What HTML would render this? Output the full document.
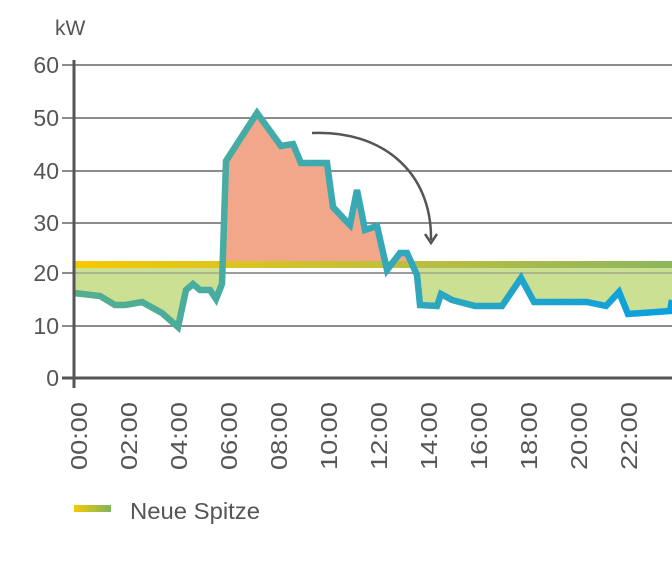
<!DOCTYPE html>
<html><head><meta charset="utf-8"><style>html,body{margin:0;padding:0;background:#fff}svg{display:block}</style></head>
<body>
<svg width="672" height="579" viewBox="0 0 672 579" xmlns="http://www.w3.org/2000/svg" font-family="Liberation Sans, sans-serif">
<defs>
<linearGradient id="band" x1="0" x2="1"><stop offset="0" stop-color="#f7c900"/><stop offset="0.5" stop-color="#c3bf3a"/><stop offset="1" stop-color="#8db65e"/></linearGradient>
<linearGradient id="line" x1="74" x2="672" gradientUnits="userSpaceOnUse"><stop offset="0" stop-color="#55ae8e"/><stop offset="0.4" stop-color="#3faaae"/><stop offset="1" stop-color="#0aa0e0"/></linearGradient>
<linearGradient id="leg" x1="0" x2="1"><stop offset="0" stop-color="#f7c900"/><stop offset="1" stop-color="#7fb55e"/></linearGradient>
<clipPath id="up"><rect x="0" y="0" width="672" height="262"/></clipPath>
<clipPath id="dn"><rect x="0" y="268" width="672" height="300"/></clipPath>
</defs>
<g stroke="#666" stroke-width="1.5">
<line x1="62" y1="65" x2="672" y2="65"/><line x1="62" y1="118" x2="672" y2="118"/><line x1="62" y1="171" x2="672" y2="171"/><line x1="62" y1="223" x2="672" y2="223"/><line x1="62" y1="273" x2="672" y2="273"/><line x1="62" y1="326" x2="672" y2="326"/>
</g>
<g fill="#555" font-size="23" text-anchor="end">
<text x="59" y="73">60</text><text x="59" y="126">50</text><text x="59" y="179">40</text><text x="59" y="231">30</text><text x="59" y="281">20</text><text x="59" y="334">10</text><text x="59" y="386">0</text>
</g>
<text x="55" y="35" fill="#555" font-size="21">kW</text>
<polygon clip-path="url(#up)" fill="#f2a78b" points="74,265 74,293 100,296 115,305 125,305 142,302 162,313 178,327 186,290 193,284 200,290 210,290 216,299 222,284 226,161 257,113 281,146 293,144 301,163 327,163 333,207 345,220 350,225 357,190 365,230 377,226 387,270 400,253 407,253 417,275 420,305 437,306 441,294 452,300 475,306 502,306 521,278 534,302 587,302 606,306 619,292 628,314 670,311 672,300 672,265"/>
<rect x="74" y="261" width="598" height="7" fill="url(#band)"/>
<polygon clip-path="url(#dn)" fill="#cbe092" points="74,265 74,293 100,296 115,305 125,305 142,302 162,313 178,327 186,290 193,284 200,290 210,290 216,299 222,284 226,161 257,113 281,146 293,144 301,163 327,163 333,207 345,220 350,225 357,190 365,230 377,226 387,270 400,253 407,253 417,275 420,305 437,306 441,294 452,300 475,306 502,306 521,278 534,302 587,302 606,306 619,292 628,314 670,311 672,300 672,265"/>
<line x1="74" y1="273" x2="672" y2="273" stroke="#888" stroke-width="1"/>
<polyline fill="none" stroke="url(#line)" stroke-width="6.5" stroke-linejoin="miter" points="74,293 100,296 115,305 125,305 142,302 162,313 178,327 186,290 193,284 200,290 210,290 216,299 222,284 226,161 257,113 281,146 293,144 301,163 327,163 333,207 345,220 350,225 357,190 365,230 377,226 387,270 400,253 407,253 417,275 420,305 437,306 441,294 452,300 475,306 502,306 521,278 534,302 587,302 606,306 619,292 628,314 670,311 672,300"/>
<path d="M312,133 C380,130 432,170 431,240" fill="none" stroke="#555" stroke-width="2.5"/>
<path d="M425,234 L431,243 L437,234" fill="none" stroke="#555" stroke-width="2.5"/>
<line x1="62" y1="378" x2="672" y2="378" stroke="#555" stroke-width="3"/>
<line x1="74" y1="60" x2="74" y2="388" stroke="#555" stroke-width="3"/>
<g fill="#555" font-size="23" text-anchor="end">
<text transform="translate(87,402) rotate(-90)" textLength="68" lengthAdjust="spacingAndGlyphs">00:00</text>
<text transform="translate(137,402) rotate(-90)" textLength="68" lengthAdjust="spacingAndGlyphs">02:00</text>
<text transform="translate(187,402) rotate(-90)" textLength="68" lengthAdjust="spacingAndGlyphs">04:00</text>
<text transform="translate(237,402) rotate(-90)" textLength="68" lengthAdjust="spacingAndGlyphs">06:00</text>
<text transform="translate(287,402) rotate(-90)" textLength="68" lengthAdjust="spacingAndGlyphs">08:00</text>
<text transform="translate(337,402) rotate(-90)" textLength="68" lengthAdjust="spacingAndGlyphs">10:00</text>
<text transform="translate(387,402) rotate(-90)" textLength="68" lengthAdjust="spacingAndGlyphs">12:00</text>
<text transform="translate(437,402) rotate(-90)" textLength="68" lengthAdjust="spacingAndGlyphs">14:00</text>
<text transform="translate(487,402) rotate(-90)" textLength="68" lengthAdjust="spacingAndGlyphs">16:00</text>
<text transform="translate(537,402) rotate(-90)" textLength="68" lengthAdjust="spacingAndGlyphs">18:00</text>
<text transform="translate(587,402) rotate(-90)" textLength="68" lengthAdjust="spacingAndGlyphs">20:00</text>
<text transform="translate(637,402) rotate(-90)" textLength="68" lengthAdjust="spacingAndGlyphs">22:00</text>
</g>
<rect x="74" y="505" width="37" height="7" fill="url(#leg)"/>
<text x="130" y="519" fill="#555" font-size="23" textLength="130" lengthAdjust="spacingAndGlyphs">Neue Spitze</text>
</svg>
</body></html>
